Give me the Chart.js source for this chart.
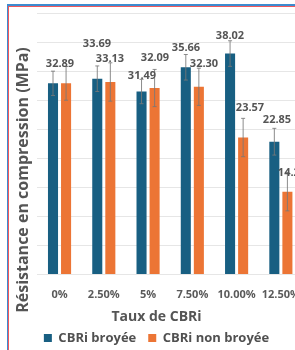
<!DOCTYPE html>
<html>
<head>
<meta charset="utf-8">
<script src="https://cdn.jsdelivr.net/npm/chart.js@4/dist/chart.umd.min.js"></script>
<style>
  html, body { margin:0; padding:0; background:#fff; overflow:hidden; width:295px; height:350px; }
  #frame { position:absolute; left:7px; top:4px; width:400px; height:400px;
           border-top:2px solid #3d8bd0; border-left:1px solid #3d8bd0; z-index:0; }
  #frame2 { position:absolute; left:0; top:0; width:400px; height:400px;
           border-top:1px solid #f0585c; border-left:1px solid #f0585c; }
  #wrap { position:absolute; left:0; top:0; width:315px; height:350px; z-index:1; }
</style>
</head>
<body>
<div id="frame"><div id="frame2"></div></div>
<div id="wrap"><canvas id="c" width="315" height="350"></canvas></div>
<script>
const categories = ['0%', '2.50%', '5%', '7.50%', '10.00%', '12.50%'];
const seriesNames = ['CBRi broyée', 'CBRi non broyée'];
const broyee = [32.89, 33.69, 31.49, 35.66, 38.02, 22.85];
const nonBroyee = [32.89, 33.13, 32.09, 32.30, 23.57, 14.25];
const broyeeErr = [2.1, 2.2, 2.1, 2.2, 2.2, 2.3];
const nonBroyeeErr = [2.9, 3.3, 3.2, 3.2, 3.3, 3.3];
const yTicks = [0, 5, 10, 15, 20, 25, 30, 35, 40, 45];
const xTitle = 'Taux de CBRi';
const yTitle = 'Résistance en compression (MPa)';

// label nudges (px) — style only
const labelDy = [[-19, -35, -16, -19, -18, -22], [-19, -23, -30, -23, -30, -19]];
const labelDx = [[6.5, 0, 0, 0, 0, 3], [-6.5, 0, 0, 5, 7, 5]];

const FONT = "'Open Sans', 'Liberation Sans', sans-serif";
const errs = [broyeeErr, nonBroyeeErr];

const errorBarPlugin = {
  id: 'errorBars',
  afterDatasetsDraw(chart) {
    const ctx = chart.ctx;
    const y = chart.scales.y;
    ctx.save();
    chart.data.datasets.forEach((ds, di) => {
      const meta = chart.getDatasetMeta(di);
      meta.data.forEach((bar, i) => {
        const v = ds.data[i], e = errs[di][i];
        const top = y.getPixelForValue(v + e);
        const bot = y.getPixelForValue(v - e);
        ctx.strokeStyle = 'rgba(120,120,120,0.85)';
        ctx.lineWidth = 1;
        ctx.beginPath();
        ctx.moveTo(bar.x, top); ctx.lineTo(bar.x, bot);
        ctx.moveTo(bar.x - 2, top); ctx.lineTo(bar.x + 2, top);
        ctx.moveTo(bar.x - 2, bot); ctx.lineTo(bar.x + 2, bot);
        ctx.stroke();
      });
    });
    // value labels
    ctx.font = 'bold 11px ' + FONT;
    ctx.fillStyle = '#555555';
    ctx.textAlign = 'center';
    ctx.textBaseline = 'middle';
    const seen = new Set();
    chart.data.datasets.forEach((ds, di) => {
      const meta = chart.getDatasetMeta(di);
      meta.data.forEach((bar, i) => {
        const txt = ds.data[i].toFixed(2);
        const lx = Math.round(bar.x + labelDx[di][i]);
        const ly = Math.round(bar.y + labelDy[di][i]);
        const key = txt + '@' + lx + ',' + ly;
        if (seen.has(key)) return;
        seen.add(key);
        ctx.fillText(txt, lx, ly);
      });
    });
    // y axis title, centred on the canvas height
    ctx.font = 'bold 16px ' + FONT;
    ctx.translate(23, 180);
    ctx.rotate(-Math.PI / 2);
    ctx.fillText(yTitle, 0, 0);
    ctx.restore();
  }
};

new Chart(document.getElementById('c'), {
  type: 'bar',
  data: {
    labels: categories,
    datasets: [
      { label: seriesNames[0], data: broyee, backgroundColor: '#185f82' },
      { label: seriesNames[1], data: nonBroyee, backgroundColor: '#ec7535' }
    ]
  },
  options: {
    responsive: false,
    animation: false,
    devicePixelRatio: 1,
    layout: { padding: { left: 10, right: 12, top: 13, bottom: 0 } },
    datasets: { bar: { categoryPercentage: 0.59, barPercentage: 0.77 } },
    scales: {
      x: {
        grid: { display: false, drawTicks: false },
        border: { display: false },
        ticks: { color: '#5a5a5a', font: { family: FONT, size: 11, weight: 'bold' }, padding: 14, maxRotation: 0, autoSkip: false }
      },
      y: {
        min: 0, max: 45,
        afterBuildTicks(scale) { scale.ticks = yTicks.map(v => ({ value: v })); },
        afterFit(scale) { scale.width = 27.4; },
        grid: { color: '#e6e6e6', lineWidth: 1, drawTicks: false },
        border: { display: false },
        ticks: { display: false }
      }
    },
    plugins: {
      legend: {
        position: 'bottom',
        weight: 3000,
        maxHeight: 30.5,
        labels: { boxWidth: 8, boxHeight: 8, padding: 12, color: '#505050', font: { family: FONT, size: 13, weight: 'bold' } }
      },
      title: {
        display: true, position: 'bottom', text: xTitle, color: '#555555',
        font: { family: FONT, size: 14, weight: 'bold' }, padding: { top: -7, bottom: -6 }
      },
      tooltip: { enabled: false }
    }
  },
  plugins: [errorBarPlugin]
});
</script>
</body>
</html>
